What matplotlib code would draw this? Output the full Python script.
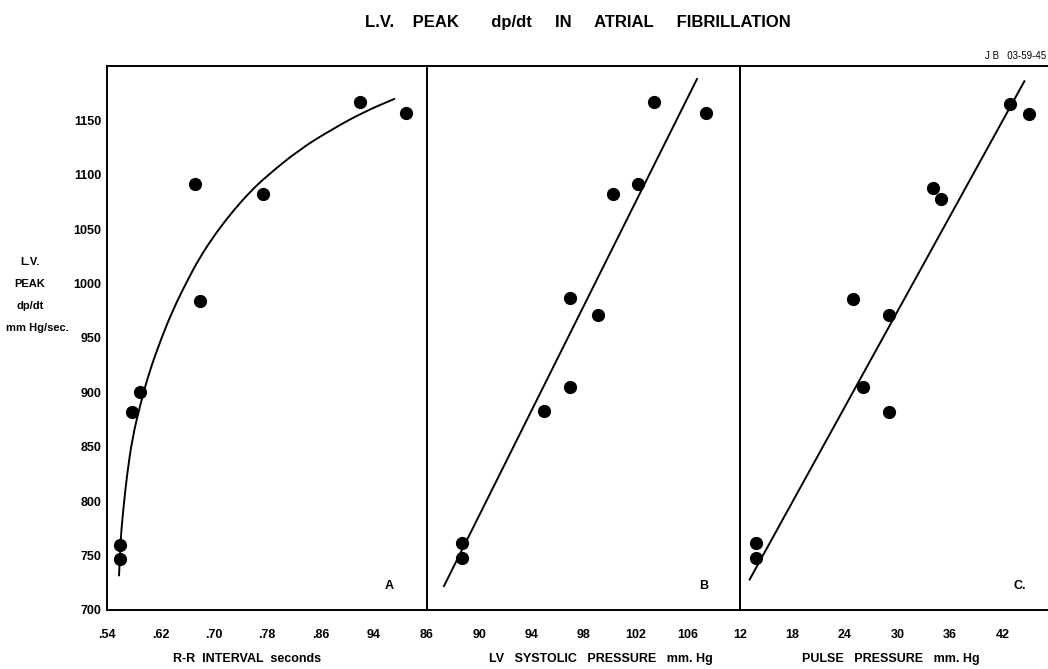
import matplotlib
matplotlib.use("Agg")
import matplotlib.pyplot as plt
from matplotlib.path import Path
from matplotlib.patches import PathPatch

plt.rcParams['font.family'] = ['Liberation Sans', 'DejaVu Sans']

# panel A - R-R interval (seconds) vs LV peak dp/dt
rr_interval = [0.919, 0.989, 0.672, 0.774, 0.679, 0.590, 0.578, 0.559, 0.559]
rr_dpdt = [1167, 1157, 1092, 1082, 984, 900, 882, 760, 747]
# hand-drawn curve
rr_curve_x = [0.558, 0.560, 0.565, 0.570, 0.578, 0.590, 0.603, 0.621, 0.639, 0.659,
              0.679, 0.704, 0.728, 0.754, 0.778, 0.828, 0.878, 0.926, 0.972]
rr_curve_y = [731, 763, 796, 824, 858, 889, 918, 949, 976, 1001,
              1024, 1047, 1066, 1084, 1098, 1123, 1142, 1158, 1170]
rr_ticks = [0.54, 0.62, 0.70, 0.78, 0.86, 0.94]
rr_labels = ['.54', '.62', '.70', '.78', '.86', '94']

# panel B - LV systolic pressure
lvsp = [103.4, 107.4, 102.2, 100.3, 97.0, 99.1, 97.0, 95.0, 88.7, 88.7]
lvsp_dpdt = [1167, 1157, 1092, 1082, 987, 971, 905, 883, 762, 748]
lvsp_fit_x = [87.3, 106.7]
lvsp_fit_y = [722, 1188]
lvsp_ticks = [86, 90, 94, 98, 102, 106]

# panel C - pulse pressure
pulse = [42.9, 45.0, 34.0, 35.0, 24.9, 29.0, 26.0, 29.0, 13.8, 13.8]
pulse_dpdt = [1165, 1156, 1088, 1078, 986, 971, 905, 882, 762, 748]
pulse_fit_x = [13.1, 44.5]
pulse_fit_y = [728, 1186]
pulse_ticks = [12, 18, 24, 30, 36, 42]

y_ticks = [700, 750, 800, 850, 900, 950, 1000, 1050, 1100, 1150]
ylabel_lines = ['L.V.', 'PEAK', 'dp/dt', 'mm Hg/sec.']

W, H = 1048, 669
fig = plt.figure(figsize=(W / 100, H / 100), dpi=100)


def px_axes(x0, x1, y0=66, y1=610):
    return fig.add_axes([x0 / W, 1 - y1 / H, (x1 - x0) / W, (y1 - y0) / H])


def style(ax, xlim, ticks, labels):
    ax.set_xlim(*xlim)
    ax.set_ylim(700, 1200)
    ax.set_xticks(ticks, labels)
    ax.tick_params(length=0, pad=14, labelsize=9)
    for lab in ax.get_xticklabels():
        lab.set_fontweight('bold')
    for sp in ax.spines.values():
        sp.set_linewidth(1.4)


def smooth_line(ax, xs, ys, **kw):
    # quadratic segments through the midpoints, so the drawn curve is not jagged
    pts = list(zip(xs, ys))
    verts = [pts[0]]
    codes = [Path.MOVETO]
    for i in range(1, len(pts) - 1):
        mid = ((pts[i][0] + pts[i + 1][0]) / 2, (pts[i][1] + pts[i + 1][1]) / 2)
        verts += [pts[i], mid]
        codes += [Path.CURVE3, Path.CURVE3]
    verts.append(pts[-1])
    codes.append(Path.LINETO)
    ax.add_patch(PathPatch(Path(verts, codes), fill=False, **kw))


axA = px_axes(107, 427)
axB = px_axes(427, 740)
axC = px_axes(740, 1055)

style(axA, (0.54, 1.02), rr_ticks, rr_labels)
style(axB, (86, 110), lvsp_ticks, [str(t) for t in lvsp_ticks])
style(axC, (12, 48), pulse_ticks, [str(t) for t in pulse_ticks])

axA.set_yticks(y_ticks, [str(t) for t in y_ticks])
axA.tick_params(axis='y', pad=4, labelsize=9)
for lab in axA.get_yticklabels():
    lab.set_fontweight('bold')
axB.set_yticks([])
axC.set_yticks([])

mk = dict(marker='o', ms=8.5, color='black', ls='none')
axA.plot(rr_interval, rr_dpdt, **mk)
smooth_line(axA, rr_curve_x, rr_curve_y, edgecolor='black', lw=1.4)
axB.plot(lvsp, lvsp_dpdt, **mk)
axB.plot(lvsp_fit_x, lvsp_fit_y, color='black', lw=1.4)
axC.plot(pulse, pulse_dpdt, **mk)
axC.plot(pulse_fit_x, pulse_fit_y, color='black', lw=1.4)

axA.text(0.964, 722, 'A', fontsize=9, fontweight='bold', ha='center', va='center')
axB.text(107.2, 722, 'B', fontsize=9, fontweight='bold', ha='center', va='center')
axC.text(44.0, 722, 'C.', fontsize=9, fontweight='bold', ha='center', va='center')

xlab = dict(fontsize=9, fontweight='bold', ha='center', va='center')
fig.text(247 / W, 1 - 659 / H, 'R-R  INTERVAL  seconds', **xlab)
fig.text(601 / W, 1 - 659 / H, 'LV   SYSTOLIC   PRESSURE   mm. Hg', **xlab)
fig.text(891 / W, 1 - 659 / H, 'PULSE   PRESSURE   mm. Hg', **xlab)

fig.text(578 / W, 1 - 22 / H, 'L.V.    PEAK       dp/dt     IN     ATRIAL     FIBRILLATION',
         fontsize=12, fontweight='bold', ha='center', va='center')
fig.text(1046 / W, 1 - 61 / H, 'J B   03-59-45', fontsize=7, ha='right', va='bottom')

for i, line in enumerate(ylabel_lines):
    xc = 37 if i == 3 else 30
    fig.text(xc / W, 1 - (262 + 22 * i) / H, line, fontsize=8, fontweight='bold',
             ha='center', va='center')

fig.savefig('out.png', dpi=100)
